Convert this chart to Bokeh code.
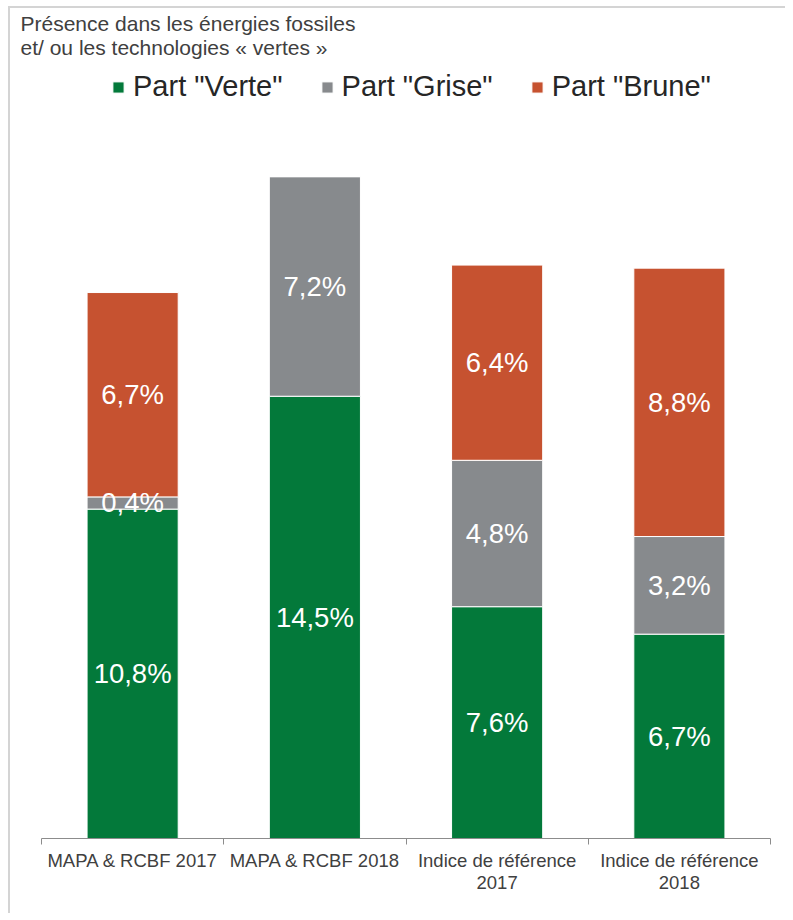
from bokeh.plotting import figure
from bokeh.models import (Range1d, LinearAxis, FixedTicker, Title,
                          Legend, LegendItem, ColumnDataSource)
from bokeh.embed import file_html
from bokeh.resources import INLINE
from bokeh.core.properties import value

# ---- data ----
categories = ["MAPA & RCBF 2017", "MAPA & RCBF 2018",
              "Indice de référence\n2017", "Indice de référence\n2018"]
verte = [10.8, 14.5, 7.6, 6.7]
grise = [0.4, 7.2, 4.8, 3.2]
brune = [6.7, 0.0, 6.4, 8.8]
series_names = ["verte", "grise", "brune"]
legend_labels = ['Part "Verte"', 'Part "Grise"', 'Part "Brune"']
title_text = "Présence dans les énergies fossiles\net/ ou les technologies « vertes »"

colors = ["#03793A", "#878A8D", "#C65230"]
FONT = "Liberation Sans"

n = len(categories)
xpos = [i + 0.5 for i in range(n)]
src = ColumnDataSource(dict(x=xpos, verte=verte, grise=grise, brune=brune))

p = figure(width=777, height=907, x_range=Range1d(0, n),
           y_range=Range1d(0, 25.475), output_backend="svg", toolbar_location=None,
           x_axis_location=None, y_axis_location=None,
           min_border_left=31, min_border_right=17, min_border_top=0, min_border_bottom=77,
           styles={"border-left": "2px solid #d4d4d4", "border-top": "2px solid #d4d4d4",
                   "margin-left": "8px", "margin-top": "6px"})
p.outline_line_color = None
p.grid.visible = False
p.background_fill_color = "white"

p.add_layout(Title(text=title_text, align="left", offset=-21, standoff=4,
                   text_font=FONT, text_font_size="21px", text_font_style="normal",
                   text_color="#404040", text_line_height=1.05), "above")

renderers = p.vbar_stack(series_names, x="x", width=0.5, source=src, color=colors,
                         line_color="white", line_width=1)

# category labels at centres, boundary ticks as minor ticks
cat_axis = LinearAxis(ticker=FixedTicker(ticks=xpos, minor_ticks=list(range(n + 1))),
                      major_label_overrides={x: c for x, c in zip(xpos, categories)},
                      axis_line_color="#8c8c8c", major_tick_line_color=None,
                      major_tick_in=0, major_tick_out=0,
                      minor_tick_line_color="#8c8c8c", minor_tick_in=0, minor_tick_out=6,
                      major_label_text_font=FONT, major_label_text_font_size="18.5px",
                      major_label_text_color="#404040", major_label_standoff=5,
                      major_label_text_line_height=1.05)
p.add_layout(cat_axis, "below")

# value labels
lx, ly, lt = [], [], []
for i in range(n):
    base = 0.0
    for vals in (verte, grise, brune):
        v = vals[i]
        if v > 0:
            lx.append(xpos[i])
            ly.append(base + v / 2)
            lt.append(f"{v:.1f}%".replace(".", ","))
        base += v
p.text(x=lx, y=ly, text=lt, text_align="center", text_baseline="middle",
       text_color="white", text_font=value(FONT), text_font_size="27.5px")

# legend
legend = Legend(items=[LegendItem(label=l, renderers=[r]) for l, r in zip(legend_labels, renderers)],
                orientation="horizontal", location=(70, 735), padding=0, margin=0,
                border_line_color=None, background_fill_alpha=0,
                glyph_width=14, glyph_height=14, label_standoff=8, spacing=37,
                label_text_font=FONT, label_text_font_size="29px", label_text_color="#262626")
p.add_layout(legend, "center")

open("out.html", "w").write(file_html(p, INLINE))
